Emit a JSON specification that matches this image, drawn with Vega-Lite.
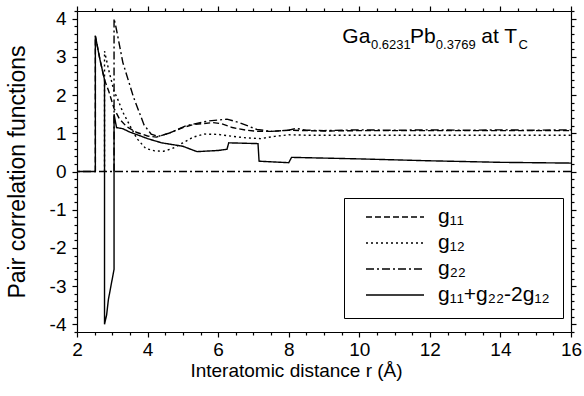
{
  "$schema": "https://vega.github.io/schema/vega-lite/v6.json",
  "width": 494,
  "height": 321,
  "autosize": {"type": "none"},
  "padding": {"left": 77, "top": 11, "right": 13, "bottom": 64},
  "background": "white",
  "config": {
    "font": "Liberation Sans",
    "view": {"stroke": null},
    "axis": {
      "grid": false,
      "domainColor": "black",
      "tickColor": "black",
      "labelColor": "black",
      "titleColor": "black",
      "labelFont": "Liberation Sans",
      "titleFont": "Liberation Sans",
      "labelFontSize": 19,
      "titleFontSize": 19,
      "titleFontWeight": "normal",
      "domainWidth": 1.2,
      "tickWidth": 1.2
    }
  },
  "resolve": {"axis": {"x": "independent", "y": "independent"}},
  "layer": [
    {
      "data": {
        "values": [
          {"s": "g₁₁", "x": 2.52, "y": 0, "i": 1},
          {"s": "g₁₁", "x": 2.52, "y": 3.55, "i": 2},
          {"s": "g₁₁", "x": 2.65, "y": 2.93, "i": 3},
          {"s": "g₁₁", "x": 2.78, "y": 2.4, "i": 4},
          {"s": "g₁₁", "x": 2.9, "y": 2.1, "i": 5},
          {"s": "g₁₁", "x": 3.05, "y": 1.65, "i": 6},
          {"s": "g₁₁", "x": 3.2, "y": 1.38, "i": 7},
          {"s": "g₁₁", "x": 3.4, "y": 1.18, "i": 8},
          {"s": "g₁₁", "x": 3.7, "y": 1.02, "i": 9},
          {"s": "g₁₁", "x": 4.0, "y": 0.93, "i": 10},
          {"s": "g₁₁", "x": 4.25, "y": 0.9, "i": 11},
          {"s": "g₁₁", "x": 4.6, "y": 1.0, "i": 12},
          {"s": "g₁₁", "x": 5.0, "y": 1.15, "i": 13},
          {"s": "g₁₁", "x": 5.3, "y": 1.23, "i": 14},
          {"s": "g₁₁", "x": 5.85, "y": 1.28, "i": 15},
          {"s": "g₁₁", "x": 6.1, "y": 1.25, "i": 16},
          {"s": "g₁₁", "x": 6.4, "y": 1.15, "i": 17},
          {"s": "g₁₁", "x": 6.8, "y": 1.08, "i": 18},
          {"s": "g₁₁", "x": 7.1, "y": 1.05, "i": 19},
          {"s": "g₁₁", "x": 7.5, "y": 1.05, "i": 20},
          {"s": "g₁₁", "x": 8.0, "y": 1.08, "i": 21},
          {"s": "g₁₁", "x": 8.5, "y": 1.07, "i": 22},
          {"s": "g₁₁", "x": 9, "y": 1.06, "i": 23},
          {"s": "g₁₁", "x": 10, "y": 1.07, "i": 24},
          {"s": "g₁₁", "x": 11, "y": 1.07, "i": 25},
          {"s": "g₁₁", "x": 12, "y": 1.07, "i": 26},
          {"s": "g₁₁", "x": 13, "y": 1.07, "i": 27},
          {"s": "g₁₁", "x": 14, "y": 1.07, "i": 28},
          {"s": "g₁₁", "x": 15, "y": 1.07, "i": 29},
          {"s": "g₁₁", "x": 16, "y": 1.07, "i": 30},

          {"s": "g₁₂", "x": 2.78, "y": 0, "i": 1},
          {"s": "g₁₂", "x": 2.78, "y": 3.15, "i": 2},
          {"s": "g₁₂", "x": 2.9, "y": 2.65, "i": 3},
          {"s": "g₁₂", "x": 3.05, "y": 2.1, "i": 4},
          {"s": "g₁₂", "x": 3.15, "y": 1.9, "i": 5},
          {"s": "g₁₂", "x": 3.3, "y": 1.55, "i": 6},
          {"s": "g₁₂", "x": 3.5, "y": 1.2, "i": 7},
          {"s": "g₁₂", "x": 3.7, "y": 0.86, "i": 8},
          {"s": "g₁₂", "x": 3.95, "y": 0.6, "i": 9},
          {"s": "g₁₂", "x": 4.2, "y": 0.54, "i": 10},
          {"s": "g₁₂", "x": 4.45, "y": 0.53, "i": 11},
          {"s": "g₁₂", "x": 4.7, "y": 0.6, "i": 12},
          {"s": "g₁₂", "x": 5.0, "y": 0.75, "i": 13},
          {"s": "g₁₂", "x": 5.3, "y": 0.9, "i": 14},
          {"s": "g₁₂", "x": 5.6, "y": 0.98, "i": 15},
          {"s": "g₁₂", "x": 6.0, "y": 0.97, "i": 16},
          {"s": "g₁₂", "x": 6.4, "y": 0.92, "i": 17},
          {"s": "g₁₂", "x": 6.8, "y": 0.88, "i": 18},
          {"s": "g₁₂", "x": 7.2, "y": 0.86, "i": 19},
          {"s": "g₁₂", "x": 7.6, "y": 0.92, "i": 20},
          {"s": "g₁₂", "x": 8.0, "y": 0.96, "i": 21},
          {"s": "g₁₂", "x": 8.5, "y": 0.95, "i": 22},
          {"s": "g₁₂", "x": 9, "y": 0.95, "i": 23},
          {"s": "g₁₂", "x": 10, "y": 0.95, "i": 24},
          {"s": "g₁₂", "x": 12, "y": 0.95, "i": 25},
          {"s": "g₁₂", "x": 14, "y": 0.95, "i": 26},
          {"s": "g₁₂", "x": 16, "y": 0.95, "i": 27},

          {"s": "g₂₂", "x": 3.05, "y": 0, "i": 1},
          {"s": "g₂₂", "x": 3.05, "y": 4.0, "i": 2},
          {"s": "g₂₂", "x": 3.1, "y": 3.8, "i": 3},
          {"s": "g₂₂", "x": 3.3, "y": 2.85, "i": 4},
          {"s": "g₂₂", "x": 3.6, "y": 1.95, "i": 5},
          {"s": "g₂₂", "x": 3.9, "y": 1.22, "i": 6},
          {"s": "g₂₂", "x": 4.1, "y": 0.98, "i": 7},
          {"s": "g₂₂", "x": 4.3, "y": 0.92, "i": 8},
          {"s": "g₂₂", "x": 4.6, "y": 1.0, "i": 9},
          {"s": "g₂₂", "x": 5.1, "y": 1.2, "i": 10},
          {"s": "g₂₂", "x": 5.7, "y": 1.32, "i": 11},
          {"s": "g₂₂", "x": 6.25, "y": 1.37, "i": 12},
          {"s": "g₂₂", "x": 6.6, "y": 1.28, "i": 13},
          {"s": "g₂₂", "x": 7.1, "y": 1.1, "i": 14},
          {"s": "g₂₂", "x": 7.5, "y": 1.05, "i": 15},
          {"s": "g₂₂", "x": 8.0, "y": 1.08, "i": 16},
          {"s": "g₂₂", "x": 8.2, "y": 1.13, "i": 17},
          {"s": "g₂₂", "x": 8.5, "y": 1.08, "i": 18},
          {"s": "g₂₂", "x": 9, "y": 1.07, "i": 19},
          {"s": "g₂₂", "x": 10, "y": 1.09, "i": 20},
          {"s": "g₂₂", "x": 11, "y": 1.08, "i": 21},
          {"s": "g₂₂", "x": 12, "y": 1.09, "i": 22},
          {"s": "g₂₂", "x": 13, "y": 1.08, "i": 23},
          {"s": "g₂₂", "x": 14, "y": 1.09, "i": 24},
          {"s": "g₂₂", "x": 15, "y": 1.08, "i": 25},
          {"s": "g₂₂", "x": 16, "y": 1.09, "i": 26},

          {"s": "g₁₁+g₂₂-2g₁₂", "x": 2.0, "y": 0, "i": 1},
          {"s": "g₁₁+g₂₂-2g₁₂", "x": 2.52, "y": 0, "i": 2},
          {"s": "g₁₁+g₂₂-2g₁₂", "x": 2.52, "y": 3.55, "i": 3},
          {"s": "g₁₁+g₂₂-2g₁₂", "x": 2.65, "y": 2.93, "i": 4},
          {"s": "g₁₁+g₂₂-2g₁₂", "x": 2.78, "y": 2.4, "i": 5},
          {"s": "g₁₁+g₂₂-2g₁₂", "x": 2.78, "y": -4.0, "i": 6},
          {"s": "g₁₁+g₂₂-2g₁₂", "x": 2.84, "y": -3.75, "i": 7},
          {"s": "g₁₁+g₂₂-2g₁₂", "x": 2.89, "y": -3.35, "i": 8},
          {"s": "g₁₁+g₂₂-2g₁₂", "x": 3.05, "y": -2.56, "i": 9},
          {"s": "g₁₁+g₂₂-2g₁₂", "x": 3.05, "y": 1.5, "i": 10},
          {"s": "g₁₁+g₂₂-2g₁₂", "x": 3.12, "y": 1.15, "i": 11},
          {"s": "g₁₁+g₂₂-2g₁₂", "x": 3.3, "y": 1.12, "i": 12},
          {"s": "g₁₁+g₂₂-2g₁₂", "x": 3.5, "y": 1.03, "i": 13},
          {"s": "g₁₁+g₂₂-2g₁₂", "x": 3.8, "y": 0.93, "i": 14},
          {"s": "g₁₁+g₂₂-2g₁₂", "x": 4.0, "y": 0.86, "i": 15},
          {"s": "g₁₁+g₂₂-2g₁₂", "x": 4.4, "y": 0.75, "i": 16},
          {"s": "g₁₁+g₂₂-2g₁₂", "x": 5.0, "y": 0.66, "i": 17},
          {"s": "g₁₁+g₂₂-2g₁₂", "x": 5.4, "y": 0.52, "i": 18},
          {"s": "g₁₁+g₂₂-2g₁₂", "x": 6.0, "y": 0.55, "i": 19},
          {"s": "g₁₁+g₂₂-2g₁₂", "x": 6.25, "y": 0.58, "i": 20},
          {"s": "g₁₁+g₂₂-2g₁₂", "x": 6.3, "y": 0.75, "i": 21},
          {"s": "g₁₁+g₂₂-2g₁₂", "x": 7.13, "y": 0.73, "i": 22},
          {"s": "g₁₁+g₂₂-2g₁₂", "x": 7.16, "y": 0.27, "i": 23},
          {"s": "g₁₁+g₂₂-2g₁₂", "x": 8.0, "y": 0.23, "i": 24},
          {"s": "g₁₁+g₂₂-2g₁₂", "x": 8.08, "y": 0.37, "i": 25},
          {"s": "g₁₁+g₂₂-2g₁₂", "x": 10, "y": 0.33, "i": 26},
          {"s": "g₁₁+g₂₂-2g₁₂", "x": 12, "y": 0.28, "i": 27},
          {"s": "g₁₁+g₂₂-2g₁₂", "x": 14, "y": 0.24, "i": 28},
          {"s": "g₁₁+g₂₂-2g₁₂", "x": 16, "y": 0.22, "i": 29}
        ]
      },
      "layer": [
        {
          "data": {"values": [{}]},
          "mark": {"type": "rule", "color": "black", "strokeDash": [8, 3, 2, 3], "strokeWidth": 1.3},
          "encoding": {"y": {"datum": 0, "type": "quantitative", "scale": {"domain": [-4.2, 4.2], "nice": false, "zero": false}}}
        },
        {
          "mark": {"type": "line", "color": "black", "strokeWidth": 1.4},
          "encoding": {
            "x": {
              "field": "x", "type": "quantitative",
              "scale": {"domain": [2, 16], "nice": false, "zero": false},
              "axis": {
                "orient": "bottom",
                "title": "Interatomic distance r (Å)",
                "titleX": 219,
                "values": [2, 4, 6, 8, 10, 12, 14, 16],
                "labelExpr": "'' + datum.value",
                "tickSize": 5,
                "labelPadding": 3,
                "titlePadding": 2,
                "labelFlush": false,
                "labelOverlap": false
              }
            },
            "y": {
              "field": "y", "type": "quantitative",
              "scale": {"domain": [-4.2, 4.2], "nice": false, "zero": false},
              "axis": {
                "orient": "left",
                "title": "Pair correlation functions",
                "titleFontSize": 23,
                "values": [-4, -3, -2, -1, 0, 1, 2, 3, 4],
                "labelExpr": "'' + datum.value",
                "tickSize": 5,
                "labelPadding": 6,
                "titlePadding": 20,
                "labelFlush": false,
                "labelOverlap": false
              }
            },
            "order": {"field": "i", "type": "quantitative"},
            "strokeDash": {
              "field": "s", "type": "nominal",
              "scale": {
                "domain": ["g₁₁", "g₁₂", "g₂₂", "g₁₁+g₂₂-2g₁₂"],
                "range": [[6, 3], [2, 3], [8, 3, 2, 3], [1, 0]]
              },
              "legend": {
                "orient": "none",
                "legendX": 267,
                "legendY": 187,
                "title": null,
                "symbolType": "stroke",
                "symbolSize": 3364,
                "symbolStrokeWidth": 1.4,
                "symbolStrokeColor": "black",
                "clipHeight": 12,
                "rowPadding": 5,
                "labelFontSize": 21,
                "labelFont": "Liberation Sans",
                "labelColor": "black",
                "labelOffset": 13,
                "symbolOffset": 8,
                "labelLimit": 300,
                "padding": 13,
                "strokeColor": "black",
                "fillColor": "white"
              }
            }
          }
        },
        {
          "data": {"values": [{}]},
          "mark": {"type": "text", "text": "Ga", "fontSize": 21, "align": "left", "baseline": "alphabetic", "color": "black"},
          "encoding": {"x": {"datum": 9.52, "type": "quantitative"}, "y": {"datum": 3.365, "type": "quantitative"}}
        },
        {
          "data": {"values": [{}]},
          "mark": {"type": "text", "text": "0.6231", "fontSize": 13, "align": "left", "baseline": "alphabetic", "color": "black"},
          "encoding": {"x": {"datum": 10.33, "type": "quantitative"}, "y": {"datum": 3.2, "type": "quantitative"}}
        },
        {
          "data": {"values": [{}]},
          "mark": {"type": "text", "text": "Pb", "fontSize": 21, "align": "left", "baseline": "alphabetic", "color": "black"},
          "encoding": {"x": {"datum": 11.44, "type": "quantitative"}, "y": {"datum": 3.365, "type": "quantitative"}}
        },
        {
          "data": {"values": [{}]},
          "mark": {"type": "text", "text": "0.3769", "fontSize": 13, "align": "left", "baseline": "alphabetic", "color": "black"},
          "encoding": {"x": {"datum": 12.17, "type": "quantitative"}, "y": {"datum": 3.2, "type": "quantitative"}}
        },
        {
          "data": {"values": [{}]},
          "mark": {"type": "text", "text": "at T", "fontSize": 21, "align": "left", "baseline": "alphabetic", "color": "black"},
          "encoding": {"x": {"datum": 13.46, "type": "quantitative"}, "y": {"datum": 3.365, "type": "quantitative"}}
        },
        {
          "data": {"values": [{}]},
          "mark": {"type": "text", "text": "C", "fontSize": 13, "align": "left", "baseline": "alphabetic", "color": "black"},
          "encoding": {"x": {"datum": 14.51, "type": "quantitative"}, "y": {"datum": 3.2, "type": "quantitative"}}
        }
      ]
    },
    {
      "data": {"values": [{}]},
      "mark": {"type": "point", "opacity": 0},
      "encoding": {
        "x": {
          "datum": 2, "type": "quantitative",
          "scale": {"domain": [2, 16], "nice": false, "zero": false},
          "axis": {"orient": "top", "title": null, "labels": false, "values": [2, 4, 6, 8, 10, 12, 14, 16], "tickSize": 5}
        },
        "y": {
          "datum": 0, "type": "quantitative",
          "scale": {"domain": [-4.2, 4.2], "nice": false, "zero": false},
          "axis": {"orient": "right", "title": null, "labels": false, "values": [-4, -3, -2, -1, 0, 1, 2, 3, 4], "tickSize": 5}
        }
      }
    },
    {
      "data": {"values": [{}]},
      "mark": {"type": "point", "opacity": 0},
      "encoding": {
        "x": {
          "datum": 2, "type": "quantitative",
          "scale": {"domain": [2, 16], "nice": false, "zero": false},
          "axis": {
            "orient": "bottom", "title": null, "labels": false, "domain": false, "tickSize": 3,
            "values": [2.5, 3, 3.5, 4.5, 5, 5.5, 6.5, 7, 7.5, 8.5, 9, 9.5, 10.5, 11, 11.5, 12.5, 13, 13.5, 14.5, 15, 15.5]
          }
        },
        "y": {
          "datum": 0, "type": "quantitative",
          "scale": {"domain": [-4.2, 4.2], "nice": false, "zero": false},
          "axis": {
            "orient": "left", "title": null, "labels": false, "domain": false, "tickSize": 3,
            "values": [-4.2, -3.8, -3.6, -3.4, -3.2, -2.8, -2.6, -2.4, -2.2, -1.8, -1.6, -1.4, -1.2, -0.8, -0.6, -0.4, -0.2, 0.2, 0.4, 0.6, 0.8, 1.2, 1.4, 1.6, 1.8, 2.2, 2.4, 2.6, 2.8, 3.2, 3.4, 3.6, 3.8, 4.2]
          }
        }
      }
    },
    {
      "data": {"values": [{}]},
      "mark": {"type": "point", "opacity": 0},
      "encoding": {
        "x": {
          "datum": 2, "type": "quantitative",
          "scale": {"domain": [2, 16], "nice": false, "zero": false},
          "axis": {
            "orient": "top", "title": null, "labels": false, "domain": false, "tickSize": 3,
            "values": [2.5, 3, 3.5, 4.5, 5, 5.5, 6.5, 7, 7.5, 8.5, 9, 9.5, 10.5, 11, 11.5, 12.5, 13, 13.5, 14.5, 15, 15.5]
          }
        },
        "y": {
          "datum": 0, "type": "quantitative",
          "scale": {"domain": [-4.2, 4.2], "nice": false, "zero": false},
          "axis": {
            "orient": "right", "title": null, "labels": false, "domain": false, "tickSize": 3,
            "values": [-4.2, -3.8, -3.6, -3.4, -3.2, -2.8, -2.6, -2.4, -2.2, -1.8, -1.6, -1.4, -1.2, -0.8, -0.6, -0.4, -0.2, 0.2, 0.4, 0.6, 0.8, 1.2, 1.4, 1.6, 1.8, 2.2, 2.4, 2.6, 2.8, 3.2, 3.4, 3.6, 3.8, 4.2]
          }
        }
      }
    }
  ]
}
